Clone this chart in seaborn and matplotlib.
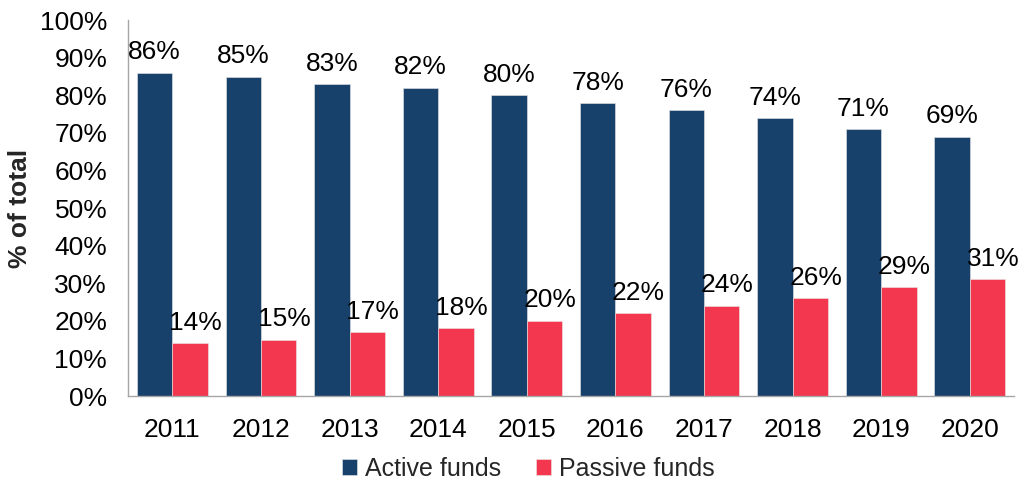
import matplotlib
matplotlib.use("Agg")
import matplotlib.pyplot as plt
import matplotlib.ticker as mticker
import numpy as np
import pandas as pd
import seaborn as sns

# ---------------------------------------------------------------------------
# Data
# ---------------------------------------------------------------------------
years = ["2011", "2012", "2013", "2014", "2015", "2016", "2017", "2018", "2019", "2020"]
active_funds = [86, 85, 83, 82, 80, 78, 76, 74, 71, 69]
passive_funds = [14, 15, 17, 18, 20, 22, 24, 26, 29, 31]
series_names = ["Active funds", "Passive funds"]

NAVY = "#17416B"
RED = "#F2374E"
GREY = "#A6A6A6"
FS = 19

sns.set_theme(style="white")
plt.rcParams.update({
    "font.family": ["Liberation Sans", "DejaVu Sans"],
    "font.size": FS,
})

df = pd.DataFrame({
    "year": years * 2,
    "share": active_funds + passive_funds,
    "series": [series_names[0]] * len(years) + [series_names[1]] * len(years),
})

fig = plt.figure(figsize=(10.36, 4.8), dpi=100)
ax = fig.add_axes([0.1236, 0.175, 0.8552, 0.783])

sns.barplot(
    data=df, x="year", y="share", hue="series",
    palette=[NAVY, RED], saturation=1, width=0.8, gap=0, ax=ax,
    edgecolor="#E8E8E8", linewidth=0.4, legend=True,
)

# value labels: passive labels sit a little right of their bar, like the source
for cont, dx in zip(ax.containers, [0, 4]):
    for bar, v in zip(cont, cont.datavalues):
        ax.annotate(f"{v:.0f}%", (bar.get_x() + bar.get_width() / 2, bar.get_height()),
                    xytext=(dx, 6), textcoords="offset points",
                    ha="center", va="bottom", fontsize=FS, color="black")

ax.set_ylim(0, 100)
ax.set_xlim(-0.5, len(years) - 0.5)
ax.yaxis.set_major_locator(mticker.MultipleLocator(10))
ax.yaxis.set_major_formatter(mticker.FuncFormatter(lambda v, _: f"{v:.0f}%"))
ax.set_xlabel("")
ax.set_ylabel("% of total", fontsize=FS, fontweight="bold", labelpad=6)

# tick marks between categories, not under the labels
ax.set_xticks(np.arange(-0.5, len(years), 1.0), minor=True)
ax.tick_params(axis="x", which="major", length=0, pad=16, labelsize=FS, colors="black")
ax.tick_params(axis="x", which="minor", length=6, width=1, color=GREY, direction="out")
ax.tick_params(axis="y", which="major", length=6, width=1, color=GREY,
               direction="out", labelsize=FS, labelcolor="black", pad=9)

for side in ["top", "right"]:
    ax.spines[side].set_visible(False)
for side in ["left", "bottom"]:
    ax.spines[side].set_color(GREY)
    ax.spines[side].set_linewidth(1)

handles, labels = ax.get_legend_handles_labels()
ax.get_legend().remove()
fig.legend(handles, labels, loc="lower center", bbox_to_anchor=(0.51, -0.048),
           ncol=2, frameon=False, fontsize=18, handlelength=0.6, handleheight=0.6,
           handletextpad=0.3, columnspacing=1.4)

fig.savefig("out.png", dpi=100)
